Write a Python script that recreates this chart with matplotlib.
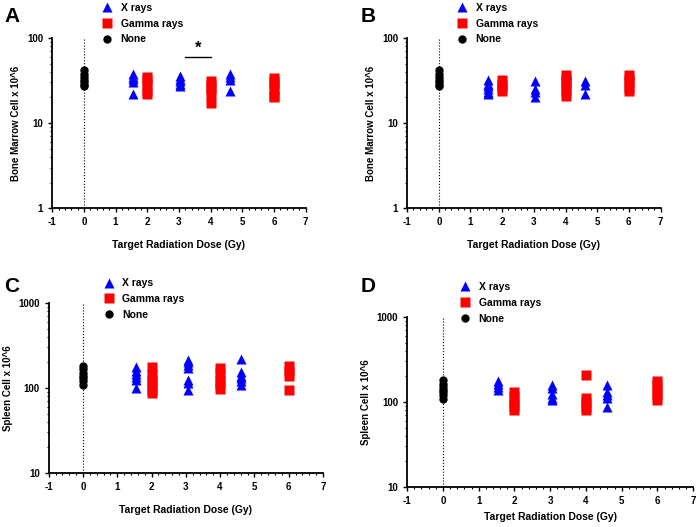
import matplotlib.pyplot as plt
from matplotlib.lines import Line2D
from matplotlib.ticker import MultipleLocator, LogLocator, NullFormatter

plt.rcParams['font.family'] = ['Liberation Sans', 'DejaVu Sans']
plt.rcParams['font.weight'] = 'bold'
plt.rcParams['axes.unicode_minus'] = False

# x positions of each group
x_none = 0
x_xray = [1.55, 3.05, 4.6]
x_gamma = [2, 4, 6]

# Panel A - bone marrow
a_none = [42, 38, 35, 32, 30, 28, 27]
a_xray = [[38, 35, 33, 30, 22], [36, 33, 31, 29, 27], [38, 35, 32, 24]]
a_gamma = [[35, 32, 29, 24, 22], [31, 28, 25, 22, 17], [34, 31, 28, 25, 21, 20]]

# Panel B - bone marrow
b_none = [42, 38, 35, 32, 30, 28, 27]
b_xray = [[32, 29, 27, 25, 23, 22], [31, 25, 23, 20], [31, 28, 22]]
b_gamma = [[32, 29, 26, 24], [37, 33, 30, 27, 24, 21], [37, 33, 30, 26, 24]]

# Panel C - spleen
c_none = [180, 165, 150, 140, 130, 120, 108]
c_xray = [[175, 160, 145, 135, 125, 100], [215, 200, 185, 170, 125, 115, 95],
          [220, 155, 140, 130, 120, 108]]
c_gamma = [[175, 145, 125, 110, 95, 88], [170, 150, 125, 110, 98], [180, 160, 140, 95]]

# Panel D - spleen
d_none = [180, 165, 150, 140, 130, 120, 108]
d_xray = [[175, 162, 150, 140], [160, 145, 125, 110, 105], [160, 130, 120, 110, 88]]
d_gamma = [[130, 115, 100, 90, 80], [210, 110, 100, 88, 80], [175, 160, 140, 120, 105]]

# letter, axes rect, data, ylabel, ylim, legend anchor, letter position (px), xlabel pad
panels = [
    ('A', [0.075, 0.605, 0.364, 0.323], a_none, a_xray, a_gamma, 'Bone Marrow Cell x 10^6', (1, 100), 0.18, 1.23, (4, 22), 9),
    ('B', [0.585, 0.605, 0.364, 0.323], b_none, b_xray, b_gamma, 'Bone Marrow Cell x 10^6', (1, 100), 0.18, 1.23, (361, 22), 9),
    ('C', [0.070, 0.1025, 0.394, 0.3226], c_none, c_xray, c_gamma, 'Spleen Cell x 10^6', (10, 1000), 0.185, 1.17, (4, 292), 9),
    ('D', [0.585, 0.0759, 0.411, 0.3226], d_none, d_xray, d_gamma, 'Spleen Cell x 10^6', (10, 1000), 0.17, 1.23, (361, 292), 4),
]

fig = plt.figure(figsize=(6.96, 5.27), dpi=100)

for letter, pos, none, xray, gamma, ylabel, ylim, lx, ly, lpos, xpad in panels:
    ax = fig.add_axes(pos)
    ax.set_yscale('log')
    ax.set_ylim(*ylim)
    ax.set_xlim(-1, 7)
    ax.axvline(0, color='black', linestyle=':', linewidth=0.8, zorder=1)

    for xv, vals in zip(x_xray, xray):
        ax.plot([xv] * len(vals), vals, '^', color='#0000ff', markersize=7, mec='none', zorder=3)
    for xv, vals in zip(x_gamma, gamma):
        ax.plot([xv] * len(vals), vals, 's', color='#ff0000', markersize=7.5, mec='none', zorder=3)
    ax.plot([x_none] * len(none), none, 'o', color='black', markersize=6, mec='none', zorder=3)

    for s in ['top', 'right']:
        ax.spines[s].set_visible(False)
    for s in ['left', 'bottom']:
        ax.spines[s].set_linewidth(1.3)

    ax.xaxis.set_major_locator(MultipleLocator(1))
    ax.xaxis.set_minor_locator(MultipleLocator(0.2))
    ax.yaxis.set_minor_locator(LogLocator(base=10, subs=range(2, 10)))
    ax.yaxis.set_minor_formatter(NullFormatter())
    ax.set_yticks([ylim[0], ylim[0] * 10, ylim[1]])
    ax.set_yticklabels([str(ylim[0]), str(ylim[0] * 10), str(ylim[1])])
    ax.tick_params(axis='both', which='major', labelsize=7, length=3, width=1)
    ax.tick_params(axis='both', which='minor', length=1.5, width=0.8)

    ax.set_xlabel('Target Radiation Dose (Gy)', fontsize=7.5, fontweight='bold', labelpad=xpad)
    ax.set_ylabel(ylabel, fontsize=7, fontweight='bold')

    handles = [
        Line2D([], [], marker='^', color='#0000ff', linestyle='none', markersize=7, mec='none'),
        Line2D([], [], marker='s', color='#ff0000', linestyle='none', markersize=7, mec='none'),
        Line2D([], [], marker='o', color='black', linestyle='none', markersize=6, mec='none'),
    ]
    ax.legend(handles, ['X rays', 'Gamma rays', 'None'], loc='upper left',
              bbox_to_anchor=(lx, ly), frameon=False, fontsize=7.5,
              handlelength=1, handletextpad=0.8, labelspacing=0.55, borderaxespad=0)

    fig.text(lpos[0] / 696, 1 - lpos[1] / 527, letter, fontsize=15, fontweight='bold',
             ha='left', va='baseline')

    if letter == 'A':
        ax.plot([3.2, 4.0], [59, 59], color='black', linewidth=1)
        ax.text(3.6, 62, '*', ha='center', va='bottom', fontsize=12, fontweight='bold')

plt.savefig('out.png', dpi=100)
